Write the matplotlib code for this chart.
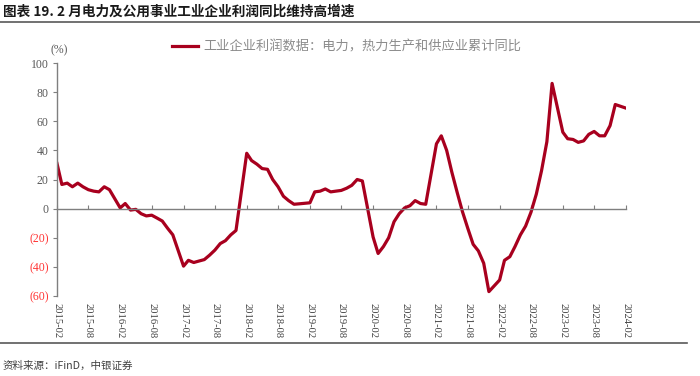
import numpy as np
import pandas as pd
import matplotlib
matplotlib.use('Agg')
from matplotlib import pyplot as plt

plt.rcParams['font.family'] = ['Liberation Serif', 'Noto Sans CJK SC', 'DejaVu Sans']

# cumulative yoy profit growth, Feb-Dec each year (no January release)
v2015 = [31, 16.6, 17.5, 15, 17.5, 15, 13, 12, 11.5, 15, 13]
v2016 = [0.5, 3.5, -1, -0.5, -3.5, -5, -4.5, -6.5, -8.5, -13.5, -18]
v2017 = [-39.5, -35.5, -37, -36, -35, -32, -28.5, -24, -22, -18, -15]
v2018 = [38, 33, 30.5, 27.5, 27, 20, 15, 8.5, 5.5, 3, 3.3]
v2019 = [4, 11.5, 12, 13.5, 11.5, 12, 12.5, 14, 16, 20, 19]
v2020 = [-19.5, -30.8, -26, -20, -9, -3.5, 0.5, 2, 5.5, 3.5, 3]
v2021 = [44.5, 50, 40, 25, 11, -2, -13.5, -24.5, -29, -37.5, -57]
v2022 = [-49, -35.5, -33, -26, -18, -12, -2.5, 10, 26, 46, 86]
v2023 = [52.5, 48, 47.5, 45.5, 46.5, 51, 53, 50, 50, 57, 71.5]
v2024 = [69]

values = v2015 + v2016 + v2017 + v2018 + v2019 + v2020 + v2021 + v2022 + v2023 + v2024
dates = pd.date_range('2015-02-01', '2024-02-01', freq='MS')
dates = dates[dates.month != 1]

xtick_dates = pd.date_range('2015-02-01', '2024-02-01', freq='6MS')
xtick_labels = [d.strftime('%Y-%m') for d in xtick_dates]
yticks = [-60, -40, -20, 0, 20, 40, 60, 80, 100]

title = '图表 19. 2 月电力及公用事业工业企业利润同比维持高增速'
series_name = '工业企业利润数据：电力，热力生产和供应业累计同比'
source = '资料来源：iFinD，中银证券'

lineColor = '#A8001E'
grey = '#7f7f7f'
cjk = ['Noto Sans CJK SC', 'DejaVu Sans']
serif = ['Liberation Serif', 'DejaVu Serif']

fig = plt.figure(figsize=(7, 3.76), dpi=100)
ax = fig.add_axes([57/700, 80/376, 569/700, 233/376])

ax.plot(dates, values, color=lineColor, lw=2.3, label=series_name, solid_joinstyle='round')

ax.set_xlim(xtick_dates[0], xtick_dates[-1])
ax.set_ylim(-60, 100)

ax.spines['top'].set_visible(False)
ax.spines['right'].set_visible(False)
ax.spines['bottom'].set_position(('data', 0))
ax.spines['bottom'].set_color(grey)
ax.spines['left'].set_color(grey)
ax.spines['bottom'].set_linewidth(1.0)
ax.spines['left'].set_linewidth(1.0)

ax.set_xticks(xtick_dates)
ax.set_xticklabels(xtick_labels, rotation=-90, fontsize=7.6, color='#404040', va='top', ha='center', family=serif)
ax.tick_params(axis='x', direction='in', length=3, color=grey, pad=68)

ylabels = [str(t) if t >= 0 else '(%d)' % (-t) for t in yticks]
ax.set_yticks(yticks)
ax.set_yticklabels(ylabels, fontsize=8.5, family=serif)
ax.tick_params(axis='y', direction='out', length=3, color=grey, pad=3)
for t, lab in zip(yticks, ax.get_yticklabels()):
	lab.set_color('#FF3333' if t < 0 else '#595959')

ax.text(-0.012, 1.03, '(%)', transform=ax.transAxes, fontsize=8.5, color='#595959', ha='left', va='bottom', family=serif)

leg = fig.legend(loc='center left', bbox_to_anchor=(172/700, 1 - 47/376), frameon=False,
	borderpad=0, borderaxespad=0, handlelength=2.0, handletextpad=0.35,
	prop={'family': cjk, 'size': 9.5})
for txt in leg.get_texts():
	txt.set_color('#8c8c8c')

fig.text(3/700, 1 - 12/376, title, fontsize=9.8, fontweight='bold', family=cjk, va='center', ha='left', color='#1a1a1a')
fig.add_artist(plt.Line2D([0, 1], [1 - 22/376, 1 - 22/376], color='#595959', lw=1.2))
fig.add_artist(plt.Line2D([0, 687/700], [1 - 343/376, 1 - 343/376], color='#595959', lw=1.2))
fig.text(3/700, 1 - 366/376, source, fontsize=7.6, family=cjk, style='italic', va='center', ha='left', color='#404040')

plt.savefig('out.png', dpi=100)
